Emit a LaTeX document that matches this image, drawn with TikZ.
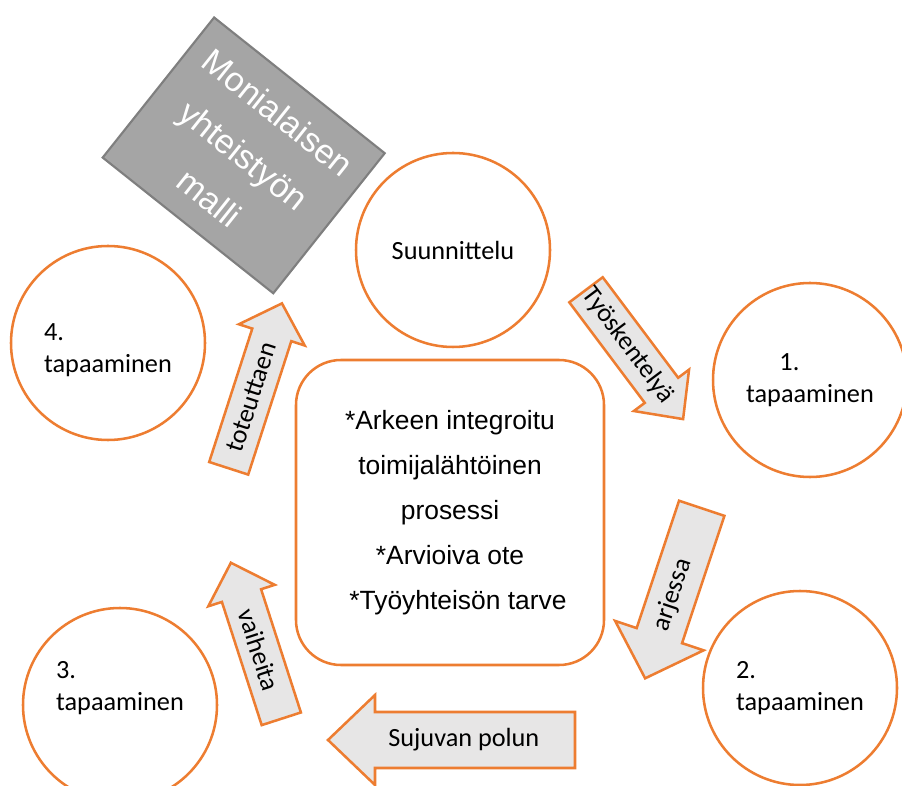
\documentclass[tikz,border=0pt]{standalone}
\usepackage{fontspec}
\setmainfont{Carlito}
\newfontfamily\arialfont{Liberation Sans}
\usetikzlibrary{calc}

\definecolor{accent}{HTML}{ED7D31}
\definecolor{arrowfill}{HTML}{E7E6E6}
\definecolor{modelfill}{HTML}{A5A5A5}
\definecolor{modeledge}{HTML}{7F7F7F}

\tikzset{
  phase/.style={circle, draw=accent, line width=1.9pt, minimum size=145.5pt,
    inner sep=0pt, align=left, font=\fontsize{19.7}{24}\selectfont},
  core/.style={draw=accent, line width=1.9pt, rounded corners=33.75pt,
    minimum width=231pt, minimum height=228.75pt, align=center,
    font=\arialfont\fontsize{19.8}{33.75}\selectfont},
  model/.style={draw=modeledge, fill=modelfill, line width=1.6pt,
    minimum width=163.5pt, minimum height=134.25pt, align=center,
    text=white, font=\arialfont\fontsize{25.5}{41}\selectfont},
  arrowbody/.style={draw=accent, fill=arrowfill, line width=1.9pt},
  arrowlabel/.style={inner sep=0pt, font=\fontsize{19.7}{24}\selectfont}
}

% block arrow: name, tail centre, angle, length, half shaft, head length, half head
\newcommand{\blockarrow}[7]{%
  \begin{scope}[shift={#2}, rotate=#3]
    \draw[arrowbody] (0,-#5) -- ({#4-#6},-#5) -- ({#4-#6},-#7) -- (#4,0)
      -- ({#4-#6},#7) -- ({#4-#6},#5) -- (0,#5) -- cycle;
    \coordinate (#1-tail) at (0,0);
    \coordinate (#1-tip) at (#4,0);
  \end{scope}}

\begin{document}
\begin{tikzpicture}[x=0.75pt,y=0.75pt]
\useasboundingbox (0,0) rectangle (902,785);
\clip (0,0) rectangle (902,785);

% meetings
\node[phase] (suunnittelu) at (453,535) {Suunnittelu};
\node[phase] (tap1) at (810,405) {\hspace*{25pt}1.\\tapaaminen};
\node[phase] (tap2) at (800,97) {2.\\tapaaminen};
\node[phase] (tap3) at (120,80) {3.\\tapaaminen\rule[-28pt]{0pt}{0pt}};
\node[phase] (tap4) at (108,442) {\rule{0pt}{23pt}4.\\tapaaminen};

% centre
\node[core] (core) at (450,272.5) {*Arkeen integroitu\\toimijalähtöinen\\prosessi\\*Arvioiva ote\\\hspace*{12pt}*Työyhteisön tarve};

% model box
\node[model, rotate=-38.5] (malli) at (243.7,629.6) {Monialaisen\\yhteistyön\\malli};

% arrows between the meetings
\blockarrow{tyo}{(586,495.2)}{-53.1}{161.7}{20.9}{36}{34.5}
\blockarrow{arki}{(701.7,276.7)}{-108.4}{179.2}{23.9}{45}{46.6}
\blockarrow{polku}{(575,45)}{180}{247}{28}{47}{45}
\blockarrow{vaihe}{(281.3,66.2)}{107.9}{164}{20.6}{34.5}{34.9}
\blockarrow{tote}{(228.7,316.7)}{72.1}{173.3}{20.5}{33.1}{34.6}

\node[arrowlabel, rotate=-53.1] (tyolabel) at ($(tyo-tail)!0.43!(tyo-tip)$) {Työskentelyä};
\node[arrowlabel, rotate=71.6] (arkilabel) at ($(arki-tail)!0.51!(arki-tip)$) {arjessa};
\node[arrowlabel] (polkulabel) at ($(polku-tail)!0.45!(polku-tip)$) {Sujuvan polun};
\node[arrowlabel, rotate=-72.1] (vaihelabel) at ($(vaihe-tail)!0.44!(vaihe-tip)$) {vaiheita};
\node[arrowlabel, rotate=72.1] (totelabel) at ($(tote-tail)!0.43!(tote-tip)$) {toteuttaen};
\end{tikzpicture}
\end{document}
